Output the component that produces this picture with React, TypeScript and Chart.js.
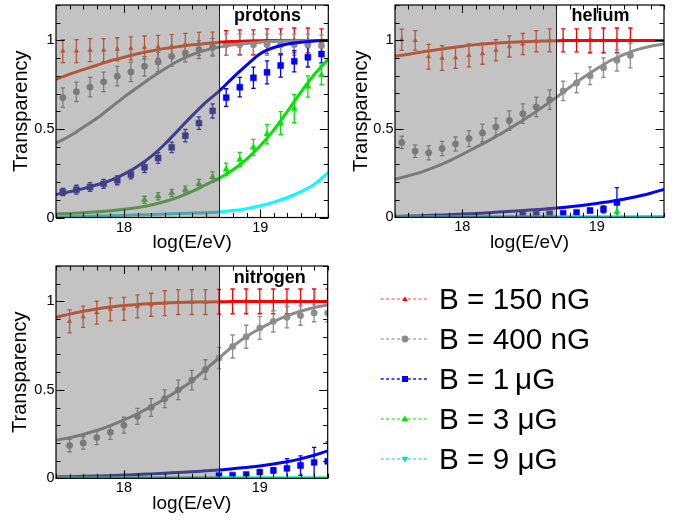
import React, { useEffect, useRef } from "react";
import { Chart, registerables } from "chart.js";

Chart.register(...registerables);

// ---------- axes ----------
const xMin = 17.5;
const xMax = 19.5;
const yMin = 0;
const yMax = 1.2;
const xTickValues = [18, 19];
const xTickLabels = ["18", "19"];
const yTickValues = [0, 0.5, 1];
const yTickLabels = ["0", "0.5", "1"];
const shadeEnd = 18.7;
const xTitle = "log(E/eV)";
const yTitle = "Transparency";

const fieldLabels = ["B = 150 nG", "B = 400 nG", "B = 1\u2009\u03bcG", "B = 3 \u03bcG", "B = 9 \u03bcG"];
const panelNames = ["protons", "helium", "nitrogen"];

// x positions
const curveX = [17.5, 17.6, 17.7, 17.8, 17.9, 18.0, 18.1, 18.2, 18.3, 18.4, 18.5, 18.6, 18.7, 18.8, 18.9, 19.0, 19.1, 19.2, 19.3, 19.4, 19.5];
const binX = [17.55, 17.65, 17.75, 17.85, 17.95, 18.05, 18.15, 18.25, 18.35, 18.45, 18.55, 18.65, 18.75, 18.85, 18.95, 19.05, 19.15, 19.25, 19.35, 19.45];
const nitrogenBinX = [17.6, 17.7, 17.8, 17.9, 18.0, 18.1, 18.2, 18.3, 18.4, 18.5, 18.6, 18.7, 18.8, 18.9, 19.0, 19.1, 19.2, 19.3, 19.4, 19.5];

// ---------- protons ----------
const protonCurve150 = [0.78, 0.81, 0.835, 0.86, 0.885, 0.905, 0.925, 0.94, 0.955, 0.965, 0.975, 0.983, 0.99, 0.994, 0.997, 0.998, 1, 1, 1, 1, 1];
const protonCurve400 = [0.42, 0.46, 0.51, 0.56, 0.62, 0.68, 0.735, 0.79, 0.84, 0.885, 0.92, 0.945, 0.962, 0.975, 0.983, 0.99, 0.994, 0.997, 0.998, 0.999, 1];
const protonCurve1u = [0.13, 0.145, 0.163, 0.185, 0.21, 0.245, 0.29, 0.345, 0.415, 0.495, 0.575, 0.65, 0.715, 0.79, 0.86, 0.925, 0.96, 0.98, 0.99, 0.997, 1];
const protonCurve3u = [0.02, 0.023, 0.027, 0.032, 0.038, 0.046, 0.057, 0.071, 0.09, 0.115, 0.147, 0.185, 0.222, 0.27, 0.33, 0.405, 0.495, 0.6, 0.71, 0.81, 0.895];
const protonCurve9u = [0.003, 0.004, 0.006, 0.008, 0.01, 0.012, 0.015, 0.017, 0.02, 0.023, 0.025, 0.027, 0.031, 0.039, 0.05, 0.066, 0.087, 0.113, 0.146, 0.19, 0.255];

const protonPts150 = [0.94, 0.94, 0.945, 0.945, 0.95, 0.955, 0.96, 0.963, 0.968, 0.975, 0.98, 0.982, 0.985, 0.99, 0.99, 0.995, 0.995, 1.0, 1.0, 0.995];
const protonErr150 = [0.065, 0.065, 0.065, 0.065, 0.065, 0.065, 0.065, 0.065, 0.065, 0.065, 0.065, 0.065, 0.07, 0.07, 0.07, 0.07, 0.07, 0.07, 0.07, 0.07];
const protonPts400 = [0.677, 0.71, 0.736, 0.766, 0.798, 0.822, 0.854, 0.878, 0.91, 0.929, 0.948, 0.961, 0.976, 0.976, 0.976, 0.976, 0.976, 0.976, 0.976, 0.97];
const protonErr400 = [0.055, 0.055, 0.055, 0.055, 0.055, 0.055, 0.055, 0.055, 0.055, 0.05, 0.05, 0.05, 0.06, 0.06, 0.06, 0.06, 0.06, 0.06, 0.06, 0.06];
const protonPts1u = [0.144, 0.157, 0.172, 0.19, 0.21, 0.243, 0.284, 0.336, 0.396, 0.462, 0.533, 0.602, 0.677, 0.736, 0.789, 0.82, 0.858, 0.882, 0.905, 0.923];
const protonErr1u = [0.02, 0.025, 0.025, 0.025, 0.025, 0.025, 0.03, 0.03, 0.03, 0.035, 0.035, 0.04, 0.05, 0.055, 0.06, 0.065, 0.065, 0.06, 0.055, 0.05];
const protonPts3u = [null, null, null, null, null, null, 0.1, 0.12, 0.138, 0.157, 0.19, 0.228, 0.272, 0.328, 0.396, 0.471, 0.533, 0.615, 0.74, 0.805];
const protonErr3u = [null, null, null, null, null, null, 0.02, 0.02, 0.02, 0.02, 0.025, 0.03, 0.035, 0.04, 0.045, 0.055, 0.065, 0.08, 0.06, 0.055];

// ---------- helium ----------
const heliumCurve150 = [0.91, 0.922, 0.934, 0.946, 0.957, 0.967, 0.976, 0.982, 0.987, 0.991, 0.994, 0.996, 0.998, 0.999, 1, 1, 1, 1, 1, 1, 1];
const heliumCurve400 = [0.215, 0.235, 0.257, 0.285, 0.318, 0.355, 0.395, 0.435, 0.478, 0.525, 0.572, 0.625, 0.678, 0.735, 0.79, 0.84, 0.885, 0.92, 0.948, 0.967, 0.98];
const heliumCurve1u = [0.005, 0.007, 0.009, 0.012, 0.015, 0.018, 0.022, 0.026, 0.031, 0.036, 0.041, 0.046, 0.052, 0.06, 0.068, 0.078, 0.089, 0.102, 0.118, 0.136, 0.158];
const heliumCurve3u = [0.001, 0.001, 0.001, 0.001, 0.001, 0.001, 0.001, 0.001, 0.001, 0.001, 0.001, 0.001, 0.001, 0.001, 0.001, 0.002, 0.002, 0.002, 0.002, 0.003, 0.003];
const heliumCurve9u = [0.001, 0.001, 0.001, 0.001, 0.001, 0.001, 0.001, 0.001, 0.001, 0.001, 0.001, 0.001, 0.001, 0.001, 0.001, 0.001, 0.001, 0.001, 0.001, 0.001, 0.001];

const heliumPts150 = [1.004, 1.0, 0.908, 0.9, 0.902, 0.915, 0.925, 0.944, 0.966, 0.98, 0.995, 1.0, 1.0, 1.0, 1.0, 1.0, 1.0, 1.0, null, null];
const heliumErr150 = [0.06, 0.055, 0.07, 0.07, 0.06, 0.065, 0.06, 0.06, 0.06, 0.06, 0.06, 0.065, 0.065, 0.065, 0.07, 0.07, 0.07, 0.07, null, null];
const heliumPts400 = [0.423, 0.374, 0.365, 0.389, 0.414, 0.445, 0.477, 0.511, 0.547, 0.586, 0.624, 0.665, 0.714, 0.759, 0.8, 0.846, 0.887, 0.915, null, null];
const heliumErr400 = [0.035, 0.035, 0.04, 0.04, 0.04, 0.045, 0.05, 0.05, 0.055, 0.055, 0.055, 0.055, 0.055, 0.055, 0.05, 0.055, 0.06, 0.07, null, null];
const heliumPts1u = [null, null, null, null, null, null, null, null, null, 0.013, 0.017, 0.02, 0.023, 0.028, 0.038, 0.045, 0.083, null, null, null];
const heliumErr1u = [null, null, null, null, null, null, null, null, null, 0.005, 0.005, 0.006, 0.008, 0.01, 0.012, 0.02, 0.085, null, null, null];
const heliumPts3u = [null, null, null, null, null, null, null, null, null, null, null, null, null, null, null, null, 0.03, null, null, null];
const heliumErr3u = [null, null, null, null, null, null, null, null, null, null, null, null, null, null, null, null, 0.05, null, null, null];

// ---------- nitrogen ----------
const nitrogenCurve150 = [0.91, 0.928, 0.944, 0.957, 0.968, 0.976, 0.983, 0.988, 0.991, 0.994, 0.996, 0.997, 0.998, 0.999, 1, 1, 1, 1, 1, 1, 1];
const nitrogenCurve400 = [0.215, 0.23, 0.248, 0.27, 0.298, 0.33, 0.365, 0.405, 0.448, 0.497, 0.55, 0.615, 0.68, 0.745, 0.8, 0.845, 0.885, 0.918, 0.944, 0.965, 0.98];
const nitrogenCurve1u = [0.008, 0.009, 0.011, 0.013, 0.015, 0.018, 0.021, 0.025, 0.029, 0.033, 0.037, 0.042, 0.047, 0.054, 0.061, 0.07, 0.081, 0.094, 0.11, 0.13, 0.155];
const nitrogenCurve3u = [0.001, 0.001, 0.001, 0.001, 0.001, 0.001, 0.001, 0.001, 0.001, 0.001, 0.001, 0.001, 0.001, 0.001, 0.001, 0.001, 0.001, 0.001, 0.002, 0.002, 0.002];
const nitrogenCurve9u = [0.001, 0.001, 0.001, 0.001, 0.001, 0.001, 0.001, 0.001, 0.001, 0.001, 0.001, 0.001, 0.001, 0.001, 0.001, 0.001, 0.001, 0.001, 0.001, 0.001, 0.001];

const nitrogenPts150 = [0.887, 0.913, 0.936, 0.955, 0.958, 0.972, 0.981, 0.99, 0.996, 0.996, 0.996, 0.998, 1, 1, 1, 1, 1, 1, 1, 1];
const nitrogenErr150 = [0.065, 0.06, 0.065, 0.065, 0.065, 0.065, 0.065, 0.07, 0.07, 0.07, 0.07, 0.07, 0.07, 0.07, 0.07, 0.07, 0.07, 0.07, 0.07, 0.07];
const nitrogenPts400 = [0.185, 0.2, 0.23, 0.26, 0.3, 0.35, 0.4, 0.45, 0.5, 0.555, 0.615, 0.68, 0.745, 0.8, 0.85, 0.887, 0.91, 0.92, 0.935, 0.935];
const nitrogenErr400 = [0.035, 0.035, 0.04, 0.04, 0.045, 0.045, 0.05, 0.05, 0.055, 0.055, 0.055, 0.06, 0.065, 0.065, 0.065, 0.06, 0.06, 0.055, 0.05, 0.05];
const nitrogenPts1u = [null, null, null, null, null, null, null, null, null, null, null, 0.015, 0.018, 0.021, 0.035, 0.045, 0.056, 0.072, 0.09, 0.096];
const nitrogenErr1u = [null, null, null, null, null, null, null, null, null, null, null, 0.005, 0.005, 0.006, 0.012, 0.015, 0.055, 0.055, 0.085, 0.11];

// ---------- styles ----------
const brightColors = ["#ff0000", "#8c8c8c", "#0000ff", "#00e600", "#00ffff"];
const dimColors = ["#b4583c", "#7a7a7a", "#3f3f8c", "#5a9150", "#44a8b0"];
const pointStyles = ["triangle", "circle", "rect", "triangle", "triangle"];
const pointRadii = [2.6, 3.2, 4.2, 3.6, 3.6];
const pointRotations = [0, 0, 0, 0, 180];
const shadeColor = "#c3c3c3";
const fontFamily = '"Liberation Sans", Arial, Helvetica, sans-serif';

type Series = { curve: number[] | null; pts: (number | null)[] | null; err: (number | null)[] | null };
type PanelDef = {
  name: string;
  bins: number[];
  series: Series[];
  box: { left: number; top: number; w: number; h: number; L: number; R: number; T: number; B: number; labelCx: number; labelTop: number; yTitleX: number };
};

const panels: PanelDef[] = [
  {
    name: panelNames[0],
    bins: binX,
    series: [
      { curve: protonCurve150, pts: protonPts150, err: protonErr150 },
      { curve: protonCurve400, pts: protonPts400, err: protonErr400 },
      { curve: protonCurve1u, pts: protonPts1u, err: protonErr1u },
      { curve: protonCurve3u, pts: protonPts3u, err: protonErr3u },
      { curve: protonCurve9u, pts: null, err: null },
    ],
    box: { left: 0, top: 0, w: 340, h: 255, L: 56, R: 328.3, T: 5, B: 217.5, labelCx: 267.5, labelTop: 5.8, yTitleX: 21.7 },
  },
  {
    name: panelNames[1],
    bins: binX,
    series: [
      { curve: heliumCurve150, pts: heliumPts150, err: heliumErr150 },
      { curve: heliumCurve400, pts: heliumPts400, err: heliumErr400 },
      { curve: heliumCurve1u, pts: heliumPts1u, err: heliumErr1u },
      { curve: heliumCurve3u, pts: heliumPts3u, err: heliumErr3u },
      { curve: heliumCurve9u, pts: null, err: null },
    ],
    box: { left: 340, top: 0, w: 345, h: 255, L: 55, R: 324, T: 5, B: 217.3, labelCx: 260.5, labelTop: 5.8, yTitleX: 21.7 },
  },
  {
    name: panelNames[2],
    bins: nitrogenBinX,
    series: [
      { curve: nitrogenCurve150, pts: nitrogenPts150, err: nitrogenErr150 },
      { curve: nitrogenCurve400, pts: nitrogenPts400, err: nitrogenErr400 },
      { curve: nitrogenCurve1u, pts: nitrogenPts1u, err: nitrogenErr1u },
      { curve: nitrogenCurve3u, pts: null, err: null },
      { curve: nitrogenCurve9u, pts: null, err: null },
    ],
    box: { left: 0, top: 255, w: 340, h: 266, L: 56, R: 327.7, T: 11, B: 223.3, labelCx: 269.7, labelTop: 12.5, yTitleX: 20.5 },
  },
];

const decoPlugin = {
  id: "rootDeco",
  beforeDatasetsDraw(chart: any) {
    const { ctx, chartArea: a, scales } = chart;
    const x = scales.x;
    const y = scales.y;
    const xs = x.getPixelForValue(shadeEnd);
    ctx.save();
    ctx.fillStyle = shadeColor;
    ctx.fillRect(a.left, a.top, xs - a.left, a.bottom - a.top);
    ctx.beginPath();
    ctx.rect(a.left, a.top, a.right - a.left, a.bottom - a.top);
    ctx.clip();
    // error bars
    chart.data.datasets.forEach((ds: any, i: number) => {
      if (!ds.isPoints) return;
      const meta = chart.getDatasetMeta(i);
      meta.data.forEach((el: any, j: number) => {
        const raw = ds.data[j];
        if (!raw || raw.e == null) return;
        const col = raw.x < shadeEnd ? ds.dimColor : ds.brightColor;
        const px = el.x;
        const y1 = y.getPixelForValue(raw.y + raw.e);
        const y2 = y.getPixelForValue(raw.y - raw.e);
        ctx.strokeStyle = col;
        ctx.lineWidth = 1.3;
        ctx.beginPath();
        ctx.moveTo(px, y1);
        ctx.lineTo(px, y2);
        ctx.moveTo(px - 2.2, y1);
        ctx.lineTo(px + 2.2, y1);
        ctx.moveTo(px - 2.2, y2);
        ctx.lineTo(px + 2.2, y2);
        ctx.stroke();
      });
    });
    ctx.restore();
  },
  afterDatasetsDraw(chart: any) {
    const { ctx, chartArea: a, scales } = chart;
    const x = scales.x;
    const y = scales.y;
    ctx.save();
    ctx.strokeStyle = "#000";
    ctx.lineWidth = 1;
    // separator
    const xs = Math.round(x.getPixelForValue(shadeEnd)) + 0.5;
    ctx.beginPath();
    ctx.moveTo(xs, a.top);
    ctx.lineTo(xs, a.bottom);
    ctx.strokeStyle = "#222";
    ctx.stroke();
    // ticks
    ctx.strokeStyle = "#000";
    ctx.beginPath();
    for (let k = 0; k <= 20; k++) {
      const v = xMin + k * 0.1;
      const px = Math.round(x.getPixelForValue(v)) + 0.5;
      const major = xTickValues.some((t) => Math.abs(t - v) < 1e-6);
      const len = major ? 8 : 4.5;
      ctx.moveTo(px, a.bottom);
      ctx.lineTo(px, a.bottom - len);
      ctx.moveTo(px, a.top);
      ctx.lineTo(px, a.top + len);
    }
    for (let k = 0; k <= 12; k++) {
      const v = yMin + k * 0.1;
      const py = Math.round(y.getPixelForValue(v)) + 0.5;
      const major = yTickValues.some((t) => Math.abs(t - v) < 1e-6);
      const len = major ? 8.5 : 4.5;
      ctx.moveTo(a.left, py);
      ctx.lineTo(a.left + len, py);
      ctx.moveTo(a.right, py);
      ctx.lineTo(a.right - len, py);
    }
    ctx.stroke();
    // frame
    ctx.lineWidth = 1.2;
    ctx.strokeRect(a.left, a.top, a.right - a.left, a.bottom - a.top);
    ctx.restore();
  },
};

function zeroPadding(s: any) {
  s.paddingTop = 0;
  s.paddingBottom = 0;
  s.paddingLeft = 0;
  s.paddingRight = 0;
}

function buildConfig(p: PanelDef): any {
  const b = p.box;
  const datasets: any[] = [];
  p.series.forEach((s, k) => {
    const bright = brightColors[k];
    const dim = dimColors[k];
    if (s.curve) {
      datasets.push({
        label: fieldLabels[k] + " fit",
        data: curveX.map((xv, i) => ({ x: xv, y: s.curve![i] })),
        showLine: true,
        borderColor: bright,
        borderWidth: 3,
        pointRadius: 0,
        cubicInterpolationMode: "monotone",
        segment: {
          borderColor: (c: any) => (c.p1.parsed.x <= shadeEnd + 1e-9 ? dim : bright),
        },
        order: 4 - k,
      });
    }
    if (s.pts) {
      const data: any[] = [];
      p.bins.forEach((xv, i) => {
        const yv = s.pts![i];
        if (yv == null) return;
        data.push({ x: xv, y: yv, e: s.err ? s.err[i] : null });
      });
      datasets.push({
        label: fieldLabels[k],
        data,
        isPoints: true,
        brightColor: bright,
        dimColor: dim,
        showLine: false,
        pointStyle: pointStyles[k],
        pointRadius: pointRadii[k],
        pointRotation: pointRotations[k],
        pointBorderWidth: 0.5,
        pointBackgroundColor: (c: any) => (c.raw && c.raw.x < shadeEnd ? dim : bright),
        pointBorderColor: (c: any) => (c.raw && c.raw.x < shadeEnd ? dim : bright),
        order: 10 + (4 - k),
      });
    }
  });

  const xTitlePad = b.h - (b.B + 25) - 11.4;
  return {
    type: "scatter",
    data: { datasets },
    options: {
      animation: false,
      responsive: false,
      devicePixelRatio: 1,
      events: [],
      layout: { padding: { left: 0, top: b.T, right: b.w - b.R, bottom: 0 } },
      plugins: { legend: { display: false }, tooltip: { enabled: false } },
      scales: {
        x: {
          type: "linear",
          position: "bottom",
          min: xMin,
          max: xMax,
          grid: { display: false, drawTicks: false },
          border: { display: false },
          afterFit: (s: any) => {
            s.height = b.h - b.B;
            zeroPadding(s);
          },
          afterBuildTicks: (s: any) => {
            s.ticks = xTickValues.map((v) => ({ value: v }));
          },
          ticks: {
            color: "#000",
            padding: 1.3,
            maxRotation: 0,
            autoSkip: false,
            font: { family: fontFamily, size: 14.5 },
            callback: (v: number) => xTickLabels[xTickValues.indexOf(v)],
          },
          title: {
            display: true,
            text: xTitle,
            color: "#000",
            font: { family: fontFamily, size: 19 },
            padding: { top: 0, bottom: xTitlePad },
          },
        },
        y: {
          type: "linear",
          position: "left",
          min: yMin,
          max: yMax,
          grid: { display: false, drawTicks: false },
          border: { display: false },
          afterFit: (s: any) => {
            s.width = b.L;
            zeroPadding(s);
          },
          afterBuildTicks: (s: any) => {
            s.ticks = yTickValues.map((v) => ({ value: v }));
          },
          ticks: {
            color: "#000",
            padding: 1.5,
            autoSkip: false,
            font: { family: fontFamily, size: 14.5 },
            callback: (v: number) => yTickLabels[yTickValues.indexOf(v)],
          },
          title: {
            display: true,
            text: yTitle,
            color: "#000",
            font: { family: fontFamily, size: 20 },
            padding: { top: b.yTitleX - 12, bottom: 0 },
          },
        },
      },
    },
    plugins: [decoPlugin],
  };
}

function Panel({ p }: { p: PanelDef }) {
  const ref = useRef<HTMLCanvasElement>(null);
  useEffect(() => {
    if (!ref.current) return;
    const chart = new Chart(ref.current, buildConfig(p));
    return () => chart.destroy();
  }, [p]);
  const b = p.box;
  return (
    <div style={{ position: "absolute", left: b.left, top: b.top, width: b.w, height: b.h }}>
      <canvas ref={ref} width={b.w} height={b.h} style={{ width: b.w, height: b.h, display: "block" }} />
      <div
        style={{
          position: "absolute",
          left: b.labelCx - 60,
          top: b.labelTop,
          width: 120,
          textAlign: "center",
          fontFamily,
          fontWeight: "bold",
          fontSize: 18,
          lineHeight: "18px",
          color: "#000",
          pointerEvents: "none",
        }}
      >
        {p.name}
      </div>
    </div>
  );
}

const legendRowY = [299.3, 339.3, 379.3, 419.3, 459.3];
const legendLineColors = ["rgba(255,0,0,0.5)", "rgba(128,128,128,0.65)", "#1010ff", "rgba(0,235,0,0.7)", "rgba(0,210,210,0.7)"];

function LegendMarker({ k }: { k: number }) {
  const c = brightColors[k];
  if (k === 0) return <polygon points="25,17.3 27.6,22 22.4,22" fill={c} />;
  if (k === 1) return <circle cx={25} cy={20} r={3.4} fill={c} />;
  if (k === 2) return <rect x={22} y={17} width={6} height={6} fill={c} />;
  if (k === 3) return <polygon points="25,16.6 28.4,22.3 21.6,22.3" fill={c} />;
  return <polygon points="25,23.4 28.4,17.7 21.6,17.7" fill="#00dcdc" />;
}

function Legend() {
  return (
    <>
      {fieldLabels.map((t, k) => (
        <React.Fragment key={t}>
          <svg
            width={50}
            height={40}
            style={{ position: "absolute", left: 380, top: legendRowY[k] - 20 }}
          >
            <line x1={0.7} y1={20} x2={47} y2={20} stroke={legendLineColors[k]} strokeWidth={1.3} strokeDasharray="3 2.4" />
            <LegendMarker k={k} />
          </svg>
          <div
            style={{
              position: "absolute",
              left: 439,
              top: legendRowY[k] - 20,
              height: 40,
              lineHeight: "40px",
              fontSize: 29.7,
              fontFamily,
              color: "#000",
              whiteSpace: "nowrap",
            }}
          >
            {t}
          </div>
        </React.Fragment>
      ))}
    </>
  );
}

export default function App() {
  return (
    <div style={{ position: "fixed", left: 0, top: 0, width: 685, height: 521, background: "#fff", overflow: "hidden" }}>
      {panels.map((p) => (
        <Panel key={p.name} p={p} />
      ))}
      <Legend />
    </div>
  );
}
